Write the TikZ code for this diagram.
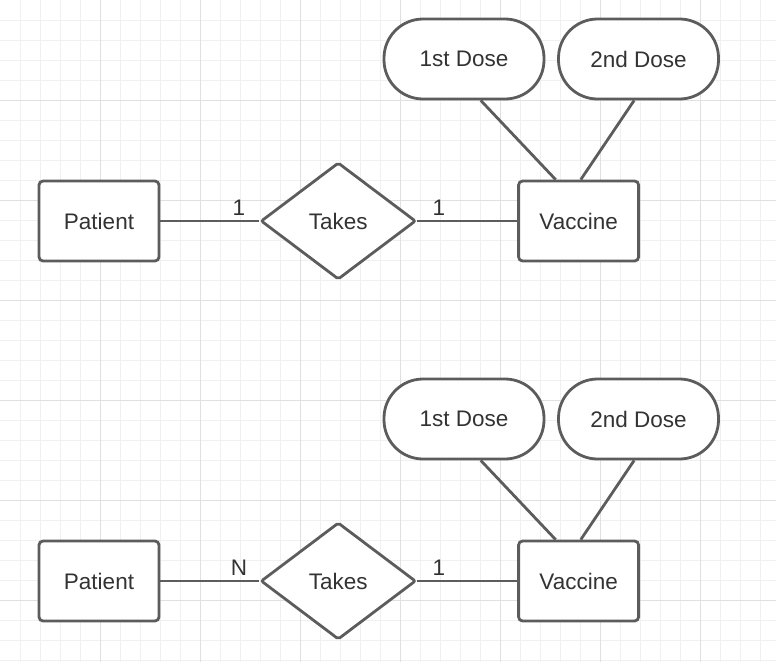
\documentclass[tikz,border=0pt]{standalone}
\usepackage{fontspec}
\setmainfont{Liberation Sans}
\usetikzlibrary{positioning, shapes.geometric}
\definecolor{gridminor}{HTML}{F0F0F0}
\definecolor{gridmajor}{HTML}{E0E0E0}
\definecolor{erborder}{HTML}{5C5C5C}
\definecolor{ertext}{HTML}{333333}

\begin{document}
\begin{tikzpicture}[
      x=1pt, y=-1pt,
      entity/.style={draw=erborder, line width=2.8pt, fill=white,
        rounded corners=4pt, minimum width=120pt, minimum height=80pt,
        inner sep=0pt, text=ertext, font=\fontsize{22.5}{25}\selectfont},
      relation/.style={draw=erborder, line width=2.8pt, fill=white,
        diamond, rounded corners=2pt, minimum width=155pt,
        minimum height=117pt, inner sep=0pt, text=ertext,
        font=\fontsize{22.5}{25}\selectfont},
      attrib/.style={draw=erborder, line width=2.8pt, fill=white,
        rounded corners=39pt, minimum width=160pt, minimum height=80pt,
        inner sep=0pt, text=ertext, font=\fontsize{22.5}{25}\selectfont},
      card/.style={text=ertext, inner sep=1pt,
        font=\fontsize{22.5}{25}\selectfont},
      link/.style={draw=erborder, line width=2.8pt}
    ]
      \useasboundingbox (0,0) rectangle (776,662);
      % background grid
      \fill[white] (0,0) rectangle (776,662);
      \foreach \gx in {20,40,...,760}
        \draw[gridminor, line width=1pt] (\gx,0) -- (\gx,662);
      \foreach \gy in {20,40,...,660}
        \draw[gridminor, line width=1pt] (0,\gy) -- (776,\gy);
      \foreach \gx in {100,200,...,700}
        \draw[gridmajor, line width=1pt] (\gx,0) -- (\gx,662);
      \foreach \gy in {100,200,...,600}
        \draw[gridmajor, line width=1pt] (0,\gy) -- (776,\gy);

      % one-to-one
      \node[entity] (patientA) at (99,221) {Patient};
      \node[relation, right=99pt of patientA] (takesA) {Takes};
      \node[entity, right=100pt of takesA] (vaccineA) {Vaccine};
      \node[attrib] (firstA) at (464,59) {1st Dose};
      \node[attrib] (secondA) at (638.5,59) {2nd Dose};
      \draw[link] (patientA) -- (takesA);
      \draw[link] (takesA.east) -- (vaccineA.west |- takesA.east);
      \draw[link] (firstA.-68) -- (vaccineA.119);
      \draw[link] (secondA.-96) -- (vaccineA.87);
      \node[card] (cardA1) at (239,208) {1};
      \node[card] (cardA2) at (439,208) {1};

      % many-to-one
      \node[entity] (patientB) at (99,581) {Patient};
      \node[relation, right=99pt of patientB] (takesB) {Takes};
      \node[entity, right=100pt of takesB] (vaccineB) {Vaccine};
      \node[attrib] (firstB) at (464,419) {1st Dose};
      \node[attrib] (secondB) at (638.5,419) {2nd Dose};
      \draw[link] (patientB) -- (takesB);
      \draw[link] (takesB.east) -- (vaccineB.west |- takesB.east);
      \draw[link] (firstB.-68) -- (vaccineB.119);
      \draw[link] (secondB.-96) -- (vaccineB.87);
      \node[card] (cardB1) at (239,568) {N};
      \node[card] (cardB2) at (439,568) {1};
    \end{tikzpicture}
\end{document}
